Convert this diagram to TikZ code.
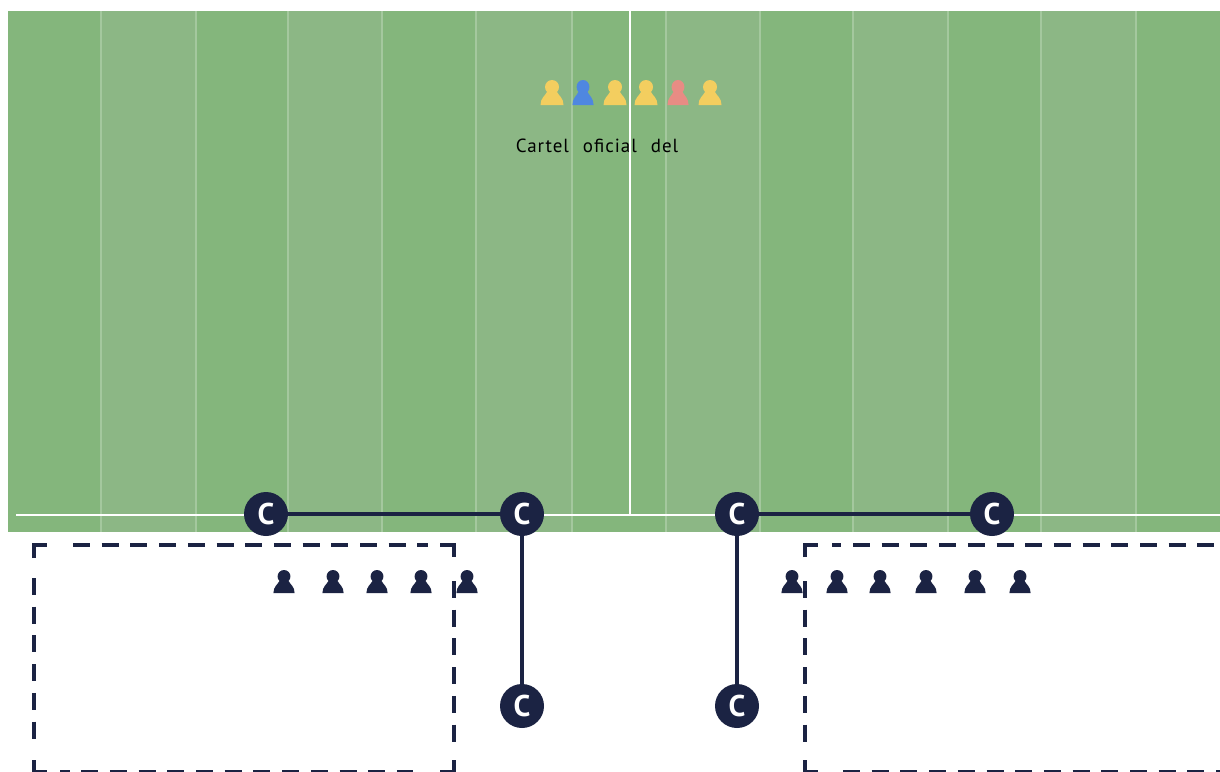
\documentclass[tikz,border=0pt]{standalone}
\usepackage{fontspec}
\setmainfont{PT Sans}
\usepackage{xcolor}

\definecolor{navy}{HTML}{1B2343}
\definecolor{fielddark}{HTML}{84B67C}
\definecolor{fieldlight}{HTML}{8CB785}
\definecolor{stripeline}{HTML}{A4C89E}
\definecolor{teamyellow}{HTML}{F3CE5F}
\definecolor{teamblue}{HTML}{4F87E0}
\definecolor{teamred}{HTML}{E88C84}

\tikzset{
  captain/.style={circle, fill=navy, text=white, minimum size=44pt, inner sep=0pt,
    font=\fontsize{30}{30}\selectfont\bfseries},
  link/.style={navy, line width=4.5pt},
  zone/.style={navy, line width=3.5pt, dash pattern=on 17pt off 11.7pt},
  zonecorner/.style={navy, line width=3.5pt},
  stripe/.style={stripeline, line width=1.3pt},
  player/.pic={
    \fill[pic actions] (-11.5,0) .. controls (-11.5,-7) and (-7,-9) .. (-5,-13)
      -- (5,-13) .. controls (7,-9) and (11.5,-7) .. (11.5,0) -- cycle;
    \fill[pic actions] (0,-18) circle (7);
  }
}

\begin{document}
\begin{tikzpicture}[x=1pt,y=-1pt]

\clip (0,0) rectangle (1220,771);
\fill[white] (0,0) rectangle (1220,771);

% Field
\fill[fielddark] (8,11) rectangle (1220,532);
\fill[fieldlight] (101,11) rectangle (196,532);
\fill[fieldlight] (288,11) rectangle (382,532);
\fill[fieldlight] (476,11) rectangle (572,532);
\fill[fieldlight] (666,11) rectangle (760,532);
\fill[fieldlight] (853,11) rectangle (948,532);
\fill[fieldlight] (1041,11) rectangle (1136,532);

% Stripe edges
\draw[stripe] (101,11)--(101,532) (196,11)--(196,532);
\draw[stripe] (288,11)--(288,532) (382,11)--(382,532);
\draw[stripe] (476,11)--(476,532) (572,11)--(572,532);
\draw[stripe] (666,11)--(666,532) (760,11)--(760,532);
\draw[stripe] (853,11)--(853,532) (948,11)--(948,532);
\draw[stripe] (1041,11)--(1041,532) (1136,11)--(1136,532);

% Touchline and halfway line
\draw[white, line width=2.2pt] (16,515)--(1220,515);
\draw[white, line width=2.2pt] (630,11)--(630,515);

% Left technical zone
\draw[zonecorner] (34,558)--(34,545)--(47,545);
\draw[zonecorner] (440,545)--(454,545)--(454,557);
\draw[zonecorner] (34,760)--(34,771.5)--(47,771.5);
\draw[zonecorner] (440,771.5)--(454,771.5)--(454,760);
\draw[zone] (73,545)--(428,545);
\draw[zone] (34,578)--(34,740);
\draw[zone] (454,581)--(454,743);
\draw[zone, dash phase=7.5pt] (60,771.5)--(413,771.5);

% Right technical zone
\draw[zonecorner] (805,557)--(805,545)--(818,545);
\draw[zonecorner] (805,760)--(805,771.5)--(818,771.5);
\draw[zone, dash phase=7.7pt] (832,545)--(1220,545);
\draw[zone] (805,581)--(805,743);
\draw[zone] (843,771.5)--(1220,771.5);

% Players on the field
\pic[fill=teamyellow] (ref1) at (552,105) {player};
\pic[fill=teamblue, xscale=0.92] (ref2) at (583,105) {player};
\pic[fill=teamyellow] (ref3) at (615,105) {player};
\pic[fill=teamyellow] (ref4) at (646,105) {player};
\pic[fill=teamred, xscale=0.92] (ref5) at (678,105) {player};
\pic[fill=teamyellow] (ref6) at (710,105) {player};

\node[font=\fontsize{19}{19}\selectfont\addfontfeatures{LetterSpace=5}, text=black] (cartel) at (597,146) {Cartel\hspace{14pt}oficial\hspace{14pt}del};

% Substitutes
\pic[fill=navy, scale=0.92] (subl1) at (284,593) {player};
\pic[fill=navy, scale=0.92] (subl2) at (333,593) {player};
\pic[fill=navy, scale=0.92] (subl3) at (377,593) {player};
\pic[fill=navy, scale=0.92] (subl4) at (421,593) {player};
\pic[fill=navy, scale=0.92] (subl5) at (467,593) {player};
\pic[fill=navy, scale=0.92] (subr1) at (792,593) {player};
\pic[fill=navy, scale=0.92] (subr2) at (837,593) {player};
\pic[fill=navy, scale=0.92] (subr3) at (880,593) {player};
\pic[fill=navy, scale=0.92] (subr4) at (926,593) {player};
\pic[fill=navy, scale=0.92] (subr5) at (975,593) {player};
\pic[fill=navy, scale=0.92] (subr6) at (1020,593) {player};

% Captains
\node[captain] (C1) at (266,514) {C};
\node[captain] (C2) at (522,514) {C};
\node[captain] (C3) at (737,514) {C};
\node[captain] (C4) at (992,514) {C};
\node[captain] (C5) at (522,706) {C};
\node[captain] (C6) at (737,706) {C};

\draw[link] (C1)--(C2);
\draw[link] (C3)--(C4);
\draw[link] (C2)--(C5);
\draw[link] (C3)--(C6);

\end{tikzpicture}
\end{document}
